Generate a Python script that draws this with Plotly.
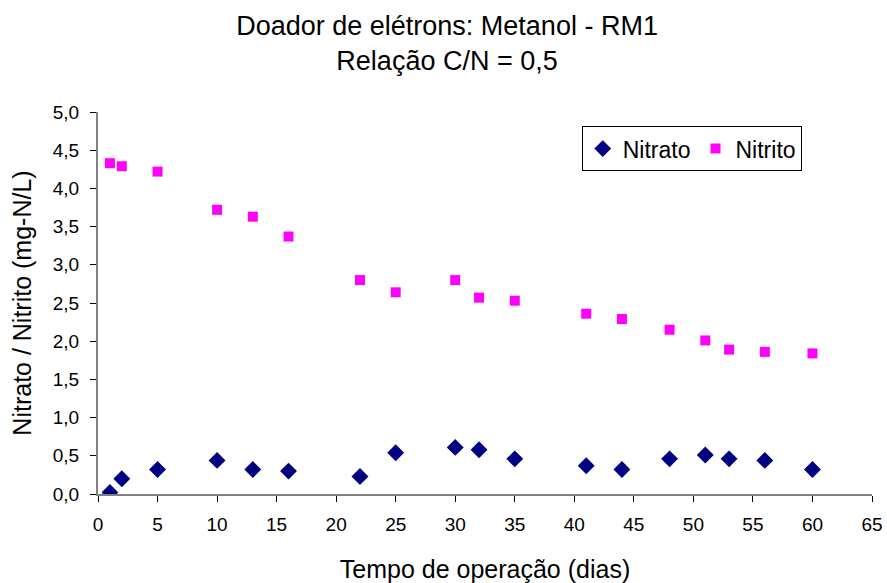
import plotly.graph_objects as go

dias_nitrato = [1, 2, 5, 10, 13, 16, 22, 25, 30, 32, 35, 41, 44, 48, 51, 53, 56, 60]
nitrato = [0.02, 0.20, 0.32, 0.44, 0.32, 0.30, 0.23, 0.54, 0.61, 0.58, 0.46, 0.37, 0.32, 0.46, 0.51, 0.46, 0.44, 0.32]
dias_nitrito = [1, 2, 5, 10, 13, 16, 22, 25, 30, 32, 35, 41, 44, 48, 51, 53, 56, 60]
nitrito = [4.33, 4.29, 4.22, 3.72, 3.63, 3.37, 2.80, 2.64, 2.80, 2.57, 2.53, 2.36, 2.29, 2.15, 2.01, 1.89, 1.86, 1.84]

x_ticks = list(range(0, 66, 5))
y_ticks = [i * 0.5 for i in range(11)]

fig = go.Figure()
fig.add_trace(go.Scatter(x=dias_nitrato, y=nitrato, mode="markers", name="Nitrato",
                         marker=dict(symbol="diamond", size=13, color="#000080")))
fig.add_trace(go.Scatter(x=dias_nitrito, y=nitrito, mode="markers", name="Nitrito",
                         marker=dict(symbol="square", size=10, color="#FF00FF")))

font = "Liberation Sans, Arial, sans-serif"
fig.update_layout(
    width=887, height=583,
    margin=dict(l=98, r=15, t=112, b=89),
    plot_bgcolor="white", paper_bgcolor="white",
    separators=", ",
    font=dict(family=font, size=19, color="black"),
    title=dict(text="Doador de elétrons: Metanol - RM1<br>Relação C/N = 0,5",
               x=0.504, xanchor="center", y=0.94, yanchor="top",
               font=dict(family=font, size=27, color="black")),
    legend=dict(orientation="h", x=0.625, xanchor="left", y=0.963, yanchor="top",
                bordercolor="black", borderwidth=1, bgcolor="white",
                font=dict(family=font, size=23), itemsizing="trace"),
    xaxis=dict(range=[0, 65], tickvals=x_ticks, showgrid=False, zeroline=False,
               showline=True, linecolor="#808080", linewidth=2, automargin=False,
               ticks="outside", ticklen=6, tickcolor="black", ticklabelstandoff=6,
               title=dict(text="Tempo de operação (dias)", font=dict(size=25), standoff=30)),
    yaxis=dict(range=[0, 5], tickvals=y_ticks, tickformat=".1f", showgrid=False, zeroline=False,
               showline=True, linecolor="#808080", linewidth=2, automargin=False,
               ticks="outside", ticklen=6, tickcolor="black", ticklabelstandoff=7,
               title=dict(text="Nitrato / Nitrito (mg-N/L)", font=dict(size=25), standoff=14)),
)
fig.write_html("out.html")
